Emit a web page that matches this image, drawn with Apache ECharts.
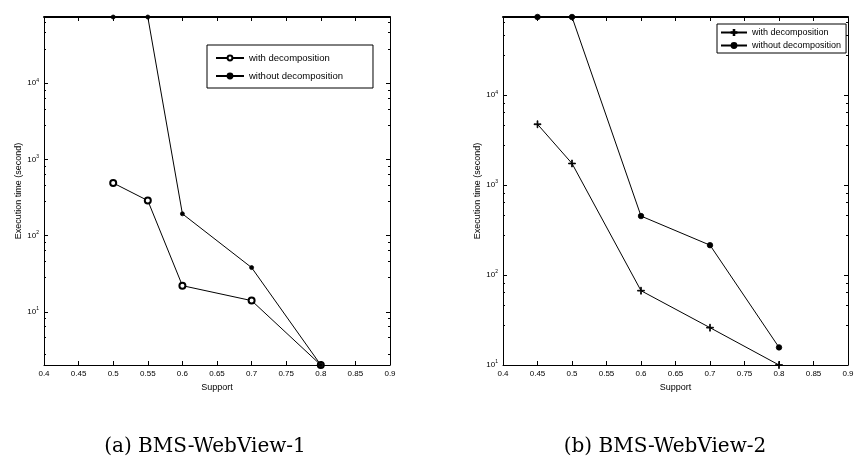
<!DOCTYPE html>
<html>
<head>
<meta charset="UTF-8">
<script src="https://cdn.jsdelivr.net/npm/echarts@6/dist/echarts.min.js"></script>
<title>BMS-WebView execution time</title>
</head>
<body style="margin:0;background:#fff">
<div id="main" style="width:859px;height:466px"></div>
<script>
// (a) BMS-WebView-1
var supportA = [0.5, 0.55, 0.6, 0.7, 0.8];
var withA = [490, 288, 22, 14, 2];
var withoutA = [74000, 74000, 193, 38, 2];
// (b) BMS-WebView-2
var supportB = [0.45, 0.5, 0.6, 0.7, 0.8];
var withB = [4750, 1740, 67, 26, 10];
var withoutB = [74000, 74000, 453, 215, 15.7];

var yMinA = 2, yMinB = 10, yMax = 74000;
var captions = ['(a) BMS-WebView-1', '(b) BMS-WebView-2'];

var font = 'Liberation Sans';
var plusPath = 'path://M4.4,0h1.2v4.4h4.4v1.2h-4.4v4.4h-1.2v-4.4h-4.4v-1.2h4.4z';

function pairs(xs, ys) {
    return xs.map(function (x, i) { return [x, ys[i]]; });
}

function xAx(grid, pos) {
    var bottom = pos === 'bottom';
    return {
        type: 'value', gridIndex: grid, position: pos,
        min: 0.4, max: 0.9, interval: 0.05,
        name: bottom ? 'Support' : '', nameLocation: 'middle', nameGap: 18,
        nameTextStyle: {fontFamily: font, fontSize: 9, color: '#000'},
        axisLine: {show: true, onZero: false, lineStyle: {color: '#000', width: bottom ? 1 : 2}},
        axisTick: {show: true, inside: true, length: 4, lineStyle: {color: '#000'}},
        axisLabel: {show: bottom, fontFamily: font, fontSize: 8, color: '#000', margin: 5},
        splitLine: {show: false}
    };
}

function yAx(grid, pos, min, nameGap, minLabel) {
    var left = pos === 'left';
    return {
        type: 'log', logBase: 10, gridIndex: grid, position: pos,
        min: min, max: yMax,
        name: left ? 'Execution time (second)' : '', nameLocation: 'middle', nameGap: nameGap,
        nameTextStyle: {fontFamily: font, fontSize: 9, color: '#000'},
        axisLine: {show: true, onZero: false, lineStyle: {color: '#000', width: 1}},
        axisTick: {show: true, inside: true, length: 4, lineStyle: {color: '#000'}},
        minorTick: {show: true, splitNumber: 5, length: 2, lineStyle: {color: '#000'}},
        axisLabel: {
            show: left, showMinLabel: minLabel, showMaxLabel: false,
            fontFamily: font, fontSize: 8, color: '#000', margin: 5,
            formatter: function (v) {
                return '10{s|' + Math.round(Math.log10(v)) + '}';
            },
            rich: {s: {fontFamily: font, fontSize: 5, color: '#000', verticalAlign: 'top', padding: [0, 0, 6, 0]}}
        },
        splitLine: {show: false}
    };
}

function lineSeries(name, x, y, data, symbol, size) {
    return {
        name: name, type: 'line', xAxisIndex: x, yAxisIndex: y,
        data: data, symbol: symbol, symbolSize: size, showAllSymbol: true,
        lineStyle: {color: '#000', width: 1},
        itemStyle: {color: '#000', borderColor: '#000', borderWidth: 0.8},
        emphasis: {disabled: true}
    };
}

var myChart = echarts.init(document.getElementById('main'));
var option = {
    animation: false,
    backgroundColor: '#fff',
    grid: [
        {left: 44, top: 17, width: 346, height: 348},
        {left: 503, top: 17, width: 345, height: 348}
    ],
    xAxis: [xAx(0, 'bottom'), xAx(0, 'top'), xAx(1, 'bottom'), xAx(1, 'top')],
    yAxis: [yAx(0, 'left', yMinA, 17, false), yAx(0, 'right', yMinA, 0, false),
            yAx(1, 'left', yMinB, 18, true), yAx(1, 'right', yMinB, 0, false)],
    legend: [
        {
            data: ['a|with decomposition', 'a|without decomposition'],
            orient: 'vertical', left: 207, top: 45,
            padding: [8, 30, 7, 8], itemGap: 8, itemWidth: 28, itemHeight: 6,
            borderColor: '#000', borderWidth: 1, backgroundColor: '#fff',
            textStyle: {fontFamily: font, fontSize: 9.5, color: '#000'},
            formatter: function (n) { return n.split('|')[1]; }
        },
        {
            data: ['b|with decomposition', 'b|without decomposition'],
            orient: 'vertical', left: 717, top: 24,
            padding: [4, 5, 3, 3], itemGap: 4, itemWidth: 26, itemHeight: 6,
            borderColor: '#000', borderWidth: 1, backgroundColor: '#fff',
            textStyle: {fontFamily: font, fontSize: 9, color: '#000'},
            formatter: function (n) { return n.split('|')[1]; }
        }
    ],
    graphic: [
        {type: 'text', x: 205, y: 447, style: {text: captions[0], font: '20px "DejaVu Serif"', fill: '#000',
            align: 'center', verticalAlign: 'middle', textAlign: 'center', textVerticalAlign: 'middle'}},
        {type: 'text', x: 665, y: 447, style: {text: captions[1], font: '20px "DejaVu Serif"', fill: '#000',
            align: 'center', verticalAlign: 'middle', textAlign: 'center', textVerticalAlign: 'middle'}}
    ],
    series: [
        lineSeries('a|with decomposition', 0, 0, pairs(supportA, withA), 'emptyCircle', 6),
        lineSeries('a|without decomposition', 0, 0, pairs(supportA, withoutA), 'circle', 4),
        lineSeries('b|with decomposition', 2, 2, pairs(supportB, withB), plusPath, 7),
        lineSeries('b|without decomposition', 2, 2, pairs(supportB, withoutB), 'circle', 5.5)
    ]
};
myChart.setOption(option);
</script>
</body>
</html>
